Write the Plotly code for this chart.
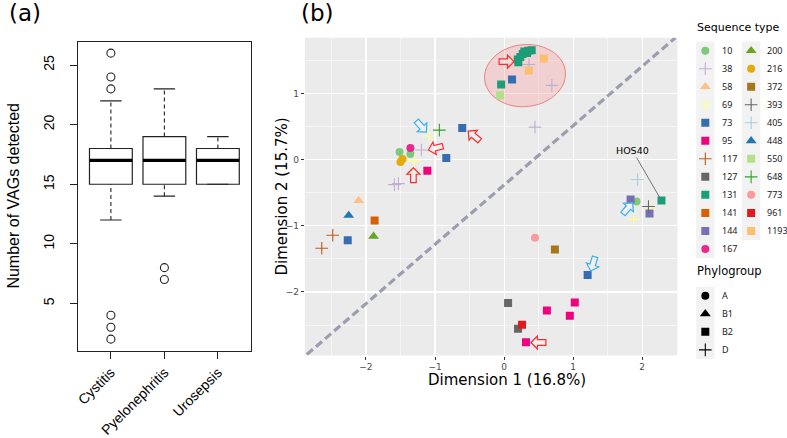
import math
import plotly.graph_objects as go

W, H = 787, 438

# ---------------- panel (a) data ----------------
categories = ["Cystitis", "Pyelonephritis", "Urosepsis"]
box_q1 = [15, 15, 15]
box_median = [17, 17, 17]
box_q3 = [18, 19, 18]
whisker_low = [12, 14, 15]
whisker_high = [22, 23, 19]
outliers = [[26, 24, 23, 4, 3, 2], [8, 7], []]
a_yticks = [5, 10, 15, 20, 25]

# ---------------- panel (b) data ----------------
seq_types = ["10", "38", "58", "69", "73", "95", "117", "127", "131", "141", "144", "167",
             "200", "216", "372", "393", "405", "448", "550", "648", "773", "961", "1193"]
seq_colors = ["#7FC97F", "#BEAED4", "#FDC086", "#FFFF99", "#386CB0", "#F0027F", "#BF5B17", "#666666",
              "#1B9E77", "#D95F02", "#7570B3", "#E7298A", "#66A61E", "#E6AB02", "#A6761D", "#666666",
              "#A6CEE3", "#1F78B4", "#B2DF8A", "#33A02C", "#FB9A99", "#E31A1C", "#FDBF6F"]
seq_phylo = ["A", "D", "B1", "D", "B2", "B2", "D", "B2", "B2", "B2", "B2", "A",
             "B1", "A", "B2", "D", "D", "B1", "B2", "D", "A", "B2", "B2"]
phylogroups = ["A", "B1", "B2", "D"]
phylo_symbols = ["circle", "triangle-up", "square", "cross-thin"]

pt_st = ["131", "131", "131", "131", "131", "131", "131", "131", "131", "131",
         "1193", "1193",
         "38", "38", "38", "38", "38", "38",
         "73", "73", "73", "73", "73",
         "550", "405",
         "69", "69", "69", "69",
         "648", "167",
         "10", "10", "10",
         "216", "216",
         "95", "95", "95", "95", "95",
         "58", "448", "141", "117", "117", "200",
         "144", "144", "393", "773", "372", "127", "127", "961"]
pt_dim1 = [0.198, 0.235, 0.27, 0.293, 0.35, 0.40, 0.332, 0.206, -0.043, 2.279,
           0.577, 0.36,
           0.36, 0.692, 0.447, -1.197, -1.587, -1.529,
           0.115, -0.606, -0.837, -2.264, 1.21,
           -0.058, 1.933,
           -1.082, -1.298, 2.12, 1.875,
           -0.937, -1.356,
           -1.514, -1.356, 1.918,
           -1.5, -1.471,
           -1.111, 0.62, 1.024, 0.952, 0.317,
           -2.106, -2.25, -1.875, -2.481, -2.64, -1.89,
           1.832, 2.106, 2.091, 0.447, 0.736, 0.058, 0.202, 0.26]
pt_dim2 = [1.51, 1.55, 1.595, 1.634, 1.645, 1.65, 1.61, 1.47, 1.135, -0.619,
           1.525, 1.345,
           1.435, 1.12, 0.49, 0.145, -0.379, -0.364,
           1.21, 0.475, 0.025, -1.219, -1.744,
           0.97, -0.3,
           0.355, -0.02, -0.754, -0.904,
           0.445, 0.175,
           0.115, 0.085, -0.634,
           -0.035, 0.01,
           -0.17, -2.28, -2.16, -2.36, -2.76,
           -0.619, -0.844, -0.919, -1.144, -1.34, -1.159,
           -0.604, -0.814, -0.709, -1.18, -1.36, -2.165, -2.555, -2.495]

b_xticks = [-2, -1, 0, 1, 2]
b_yticks = [-2, -1, 0, 1]

# highlighted isolates: arrow tip (dim1, dim2), direction (screen degrees), colour
arrow_tip_x = [0.144, -0.519, -1.096, -1.313, 0.389, -1.125, 1.861, 1.255]
arrow_tip_y = [1.48, 0.43, 0.145, -0.124, -2.763, 0.415, -0.649, -1.684]
arrow_dir = [0, 220, 165, -90, 180, 48, -50, 107]
arrow_col = ["#FF2A2A"] * 5 + ["#3AAEF0"] * 3

# cluster ellipse (dim1, dim2 centre; semi axes in dim units; tilt)
ell_cx, ell_cy, ell_a, ell_b, ell_tilt = 0.303, 1.268, 0.587, 0.468, 6

# reference diagonal
diag_x = [-2.856, 2.481]
diag_y = [-2.944, 1.84]

# ---------------- layout geometry ----------------
A_X = (75, 249)
A_Y = (42, 353)
B_X = (303, 677)
B_Y = (38, 358)
a_xrange = [0.38, 3.62]
a_yrange = [1.04, 26.96]
b_xrange = [-2.885, 2.51]
b_yrange = [-2.96, 1.84]
sx = (B_X[1] - B_X[0]) / (b_xrange[1] - b_xrange[0])
sy = (B_Y[1] - B_Y[0]) / (b_yrange[1] - b_yrange[0])


def dom_x(p):
    return [p[0] / W, p[1] / W]


def dom_y(p):
    return [1 - p[1] / H, 1 - p[0] / H]


fig = go.Figure()
shapes = []
annotations = []

# ---------------- panel (a) boxplot ----------------
BOXLINE = "#222222"
for i, cat in enumerate(categories):
    c = i + 1
    shapes.append(dict(type="rect", xref="x", yref="y", x0=c - 0.4, x1=c + 0.4,
                       y0=box_q1[i], y1=box_q3[i], line=dict(color=BOXLINE, width=1.2),
                       fillcolor="white", layer="below"))
    shapes.append(dict(type="line", xref="x", yref="y", x0=c - 0.4, x1=c + 0.4,
                       y0=box_median[i], y1=box_median[i], line=dict(color="black", width=3.2)))
    for lo, hi in [(box_q3[i], whisker_high[i]), (whisker_low[i], box_q1[i])]:
        if hi > lo:
            shapes.append(dict(type="line", xref="x", yref="y", x0=c, x1=c, y0=lo, y1=hi,
                               line=dict(color=BOXLINE, width=1.1, dash="4px,3px")))
    for v in (whisker_low[i], whisker_high[i]):
        shapes.append(dict(type="line", xref="x", yref="y", x0=c - 0.2, x1=c + 0.2, y0=v, y1=v,
                           line=dict(color=BOXLINE, width=1.2)))
    if outliers[i]:
        fig.add_trace(go.Scatter(x=[c] * len(outliers[i]), y=outliers[i], mode="markers",
                                 marker=dict(symbol="circle-open", size=8, color="#222",
                                             line=dict(width=1.1, color="#222")),
                                 xaxis="x", yaxis="y", showlegend=False, hoverinfo="skip"))

# ---------------- panel (b) scatter ----------------
shapes.append(dict(type="rect", xref="x2 domain", yref="y2 domain", x0=0, x1=1, y0=0, y1=1,
                   fillcolor="#EBEBEB", line=dict(width=0), layer="below"))

# ellipse
ell_pts = []
t = math.radians(ell_tilt)
for k in range(73):
    th = 2 * math.pi * k / 72
    u = ell_a * math.cos(th) * sx
    v = ell_b * math.sin(th) * sy
    px = u * math.cos(t) - v * math.sin(t)
    py = u * math.sin(t) + v * math.cos(t)
    ell_pts.append((ell_cx + px / sx, ell_cy + py / sy))
ell_path = "M" + " L".join(f"{x:.4f},{y:.4f}" for x, y in ell_pts) + " Z"
shapes.append(dict(type="path", xref="x2", yref="y2", path=ell_path,
                   fillcolor="rgba(255,140,140,0.28)", line=dict(color="rgba(240,110,110,0.85)", width=1),
                   layer="between"))

shapes.append(dict(type="line", xref="x2", yref="y2", x0=diag_x[0], y0=diag_y[0], x1=diag_x[1], y1=diag_y[1],
                   line=dict(color="#9C9EB0", width=3.2, dash="8px,4px"), layer="between"))


def marker_for(sym, col):
    if sym == "cross-thin":
        return dict(symbol=sym, size=9, color=col, line=dict(color=col, width=1.1))
    if sym == "triangle-up":
        return dict(symbol=sym, size=9.5, color=col, line=dict(width=0))
    return dict(symbol=sym, size=8, color=col, line=dict(width=0))


for k, st in enumerate(seq_types):
    xs = [pt_dim1[j] for j in range(len(pt_st)) if pt_st[j] == st]
    ys = [pt_dim2[j] for j in range(len(pt_st)) if pt_st[j] == st]
    sym = phylo_symbols[phylogroups.index(seq_phylo[k])]
    fig.add_trace(go.Scatter(x=xs, y=ys, mode="markers", marker=marker_for(sym, seq_colors[k]),
                             xaxis="x2", yaxis="y2", showlegend=False, hoverinfo="skip"))


# block arrows
def block_arrow(tx, ty, ang):
    pts = [(0, 0), (-6.5, -6.5), (-6.5, -2.8), (-15, -2.8), (-15, 2.8), (-6.5, 2.8), (-6.5, 6.5)]
    a = math.radians(ang)
    out = []
    for u, v in pts:
        dx = u * math.cos(a) - v * math.sin(a)
        dy = u * math.sin(a) + v * math.cos(a)
        out.append((tx + dx / sx, ty - dy / sy))
    return "M" + " L".join(f"{x:.4f},{y:.4f}" for x, y in out) + " Z"


for i in range(len(arrow_tip_x)):
    shapes.append(dict(type="path", xref="x2", yref="y2",
                       path=block_arrow(arrow_tip_x[i], arrow_tip_y[i], arrow_dir[i]),
                       fillcolor="rgba(255,255,255,0.25)", line=dict(color=arrow_col[i], width=1.2),
                       layer="above"))

annotations.append(dict(x=2.279, y=-0.619, xref="x2", yref="y2", text="HOS40", showarrow=True,
                        ax=-29, ay=-50, arrowhead=0, arrowwidth=0.8, arrowcolor="#555",
                        font=dict(family="DejaVu Sans", size=9.5, color="black"), standoff=4))

# ---------------- legend (drawn in its own axis) ----------------
LX = (680, 787)
leg_font = "DejaVu Sans"
lab_font = "Noto Sans"
row0, rstep = 51, 18.15
col_key = [705, 751]
col_lab = [719.5, 765]
nrow = 12
annotations.append(dict(x=695, y=28, xref="x3", yref="y3", text="Sequence type", showarrow=False,
                        xanchor="left", yanchor="middle", font=dict(family=leg_font, size=11, color="black")))
for k, st in enumerate(seq_types):
    c, r = divmod(k, nrow)
    yy = row0 + r * rstep
    shapes.append(dict(type="rect", xref="x3", yref="y3", x0=col_key[c] - 9.2, x1=col_key[c] + 9.2,
                       y0=yy - 9.1, y1=yy + 9.1, fillcolor="#F2F2F2", line=dict(width=0), layer="below"))
    sym = phylo_symbols[phylogroups.index(seq_phylo[k])]
    fig.add_trace(go.Scatter(x=[col_key[c]], y=[yy], mode="markers", marker=marker_for(sym, seq_colors[k]),
                             xaxis="x3", yaxis="y3", showlegend=False, hoverinfo="skip"))
    annotations.append(dict(x=col_lab[c], y=yy, xref="x3", yref="y3", text=st, showarrow=False,
                            xanchor="left", yanchor="middle", font=dict(family=lab_font, size=9, color="#1A1A1A")))

annotations.append(dict(x=695, y=273, xref="x3", yref="y3", text="Phylogroup", showarrow=False,
                        xanchor="left", yanchor="middle", font=dict(family=leg_font, size=11.5, color="black")))
prow0 = 297.8
for k, pg in enumerate(phylogroups):
    yy = prow0 + k * rstep
    shapes.append(dict(type="rect", xref="x3", yref="y3", x0=col_key[0] - 9.2, x1=col_key[0] + 9.2,
                       y0=yy - 9.1, y1=yy + 9.1, fillcolor="#F2F2F2", line=dict(width=0), layer="below"))
    fig.add_trace(go.Scatter(x=[col_key[0]], y=[yy], mode="markers", marker=marker_for(phylo_symbols[k], "black"),
                             xaxis="x3", yaxis="y3", showlegend=False, hoverinfo="skip"))
    annotations.append(dict(x=col_lab[0], y=yy, xref="x3", yref="y3", text=pg, showarrow=False,
                            xanchor="left", yanchor="middle", font=dict(family=lab_font, size=9, color="#1A1A1A")))

# ---------------- titles / labels ----------------
annotations += [
    dict(x=4 / W, y=1 - 13 / H, xref="paper", yref="paper", text="(a)", showarrow=False,
         xanchor="left", yanchor="middle", font=dict(family="DejaVu Sans", size=23, color="black")),
    dict(x=297 / W, y=1 - 13 / H, xref="paper", yref="paper", text="(b)", showarrow=False,
         xanchor="left", yanchor="middle", font=dict(family="DejaVu Sans", size=23, color="black")),
    dict(x=11 / W, y=1 - 197 / H, xref="paper", yref="paper", text="Number of VAGs detected", showarrow=False,
         textangle=-90, xanchor="center", yanchor="middle",
         font=dict(family="Liberation Sans", size=16, color="black")),
    dict(x=506 / W, y=1 - 383 / H, xref="paper", yref="paper", text="Dimension 1 (16.8%)", showarrow=False,
         xanchor="center", yanchor="middle", font=dict(family="DejaVu Sans", size=15, color="black")),
    dict(x=280 / W, y=1 - 198 / H, xref="paper", yref="paper", text="Dimension 2 (15.7%)", showarrow=False,
         textangle=-90, xanchor="center", yanchor="middle",
         font=dict(family="DejaVu Sans", size=15, color="black")),
]

fig.update_layout(
    width=W, height=H, autosize=False,
    margin=dict(l=0, r=0, t=0, b=0),
    paper_bgcolor="white", plot_bgcolor="rgba(0,0,0,0)",
    showlegend=False,
    xaxis=dict(domain=dom_x(A_X), range=a_xrange, anchor="y", tickvals=[1, 2, 3], ticktext=categories,
               tickangle=-45, ticks="outside", ticklen=7, tickcolor="#222", showline=True, mirror=True,
               linecolor="#222", linewidth=1.2, showgrid=False, zeroline=False,
               tickfont=dict(family="Liberation Sans", size=14, color="black")),
    yaxis=dict(domain=dom_y(A_Y), range=a_yrange, anchor="x", tickvals=a_yticks, tickangle=-90,
               ticks="outside", ticklen=7, tickcolor="#222", showline=True, mirror=True,
               linecolor="#222", linewidth=1.2, showgrid=False, zeroline=False, ticklabelstandoff=10,
               tickfont=dict(family="Liberation Sans", size=14, color="black")),
    xaxis2=dict(domain=dom_x(B_X), range=b_xrange, anchor="y2", tickvals=b_xticks,
                ticks="outside", ticklen=3, tickcolor="#333", showline=False, zeroline=False,
                showgrid=True, gridcolor="white", gridwidth=1.1,
                minor=dict(tickvals=[-2.5, -1.5, -0.5, 0.5, 1.5, 2.5], showgrid=True,
                           gridcolor="white", gridwidth=0.5, ticks=""),
                tickfont=dict(family="DejaVu Sans", size=9, color="#4D4D4D")),
    yaxis2=dict(domain=dom_y(B_Y), range=b_yrange, anchor="x2", tickvals=b_yticks,
                ticks="outside", ticklen=3, tickcolor="#333", showline=False, zeroline=False,
                showgrid=True, gridcolor="white", gridwidth=1.1,
                minor=dict(tickvals=[-2.5, -1.5, -0.5, 0.5, 1.5], showgrid=True,
                           gridcolor="white", gridwidth=0.5, ticks=""),
                tickfont=dict(family="DejaVu Sans", size=9, color="#4D4D4D")),
    xaxis3=dict(domain=dom_x(LX), range=list(LX), anchor="y3", visible=False, fixedrange=True),
    yaxis3=dict(domain=[0, 1], range=[H, 0], anchor="x3", visible=False, fixedrange=True),
    shapes=shapes,
    annotations=annotations,
)

fig.write_html("out.html", config={"displayModeBar": False, "staticPlot": True},
               post_script="document.body.style.margin='0';document.body.style.padding='0';"
                           "document.body.style.overflow='hidden';")
